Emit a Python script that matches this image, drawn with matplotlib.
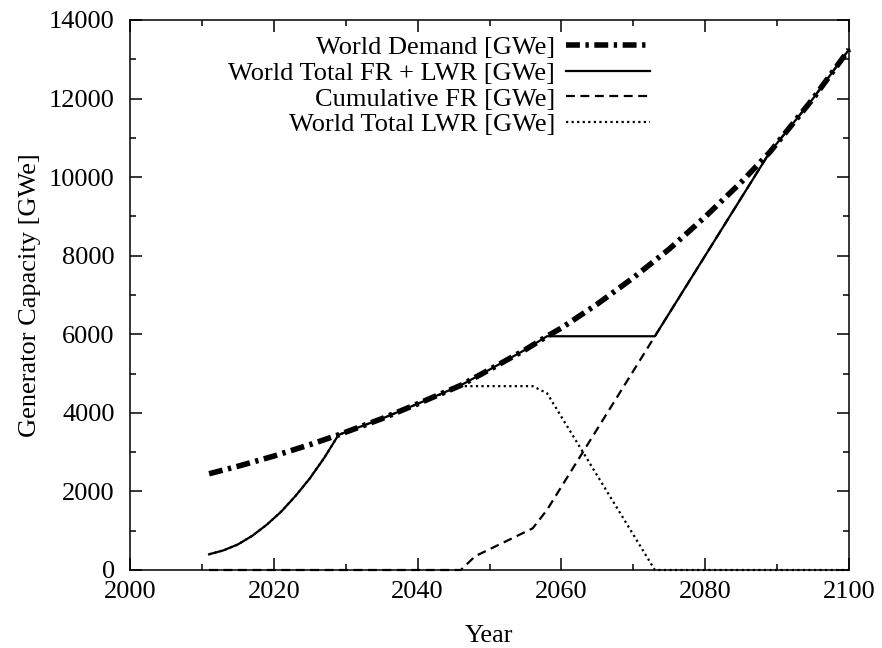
import matplotlib
matplotlib.use("Agg")
import matplotlib.pyplot as plt
from matplotlib.ticker import MultipleLocator

# values
demand_years = [2011, 2015, 2020, 2025, 2029, 2035, 2040, 2046, 2050, 2055, 2058,
                2060, 2065, 2070, 2075, 2080, 2085, 2089, 2095, 2100]
demand_gwe = [2450, 2640, 2900, 3190, 3440, 3850, 4230, 4700, 5100, 5610, 5950,
              6160, 6770, 7440, 8170, 8990, 9870, 10640, 12000, 13250]

total_years = [2011, 2013, 2015, 2017, 2019, 2021, 2023, 2025, 2027, 2029, 2035,
               2040, 2046, 2050, 2055, 2058, 2073, 2089, 2095, 2100]
total_gwe = [400, 500, 650, 870, 1150, 1480, 1880, 2330, 2850, 3440, 3850,
             4230, 4700, 5100, 5610, 5950, 5950, 10640, 12000, 13250]

fr_years = [2011, 2046, 2048, 2056, 2058, 2073, 2089, 2095, 2100]
fr_gwe = [0, 0, 350, 1060, 1530, 5950, 10640, 12000, 13250]

lwr_years = [2011, 2013, 2015, 2017, 2019, 2021, 2023, 2025, 2027, 2029, 2035,
             2040, 2046, 2056, 2058, 2073, 2100]
lwr_gwe = [400, 500, 650, 870, 1150, 1480, 1880, 2330, 2850, 3440, 3850,
           4230, 4680, 4680, 4500, 0, 0]

plt.rcParams['font.family'] = ['Liberation Serif', 'DejaVu Serif']
plt.rcParams['font.size'] = 19

fig = plt.figure(figsize=(8.82, 6.48), dpi=100)
ax = fig.add_axes([130/882, 1-570/648, (849-130)/882, (570-20)/648])

ax.plot(demand_years, demand_gwe, color='black', lw=4.0, dashes=(2.5, 1.0, 0.6, 1.0),
        label='World Demand [GWe]', clip_on=False)
ax.plot(total_years, total_gwe, color='black', lw=1.6,
        label='World Total FR + LWR [GWe]', clip_on=False)
ax.plot(fr_years, fr_gwe, color='black', lw=1.6, dashes=(4, 2.5),
        label='Cumulative FR [GWe]', clip_on=False)
ax.plot(lwr_years, lwr_gwe, color='black', lw=1.6, dashes=(1, 1.5),
        label='World Total LWR [GWe]', clip_on=False)

ax.set_xlim(2000, 2100)
ax.set_ylim(0, 14000)
ax.xaxis.set_major_locator(MultipleLocator(20))
ax.xaxis.set_minor_locator(MultipleLocator(10))
ax.yaxis.set_major_locator(MultipleLocator(2000))
ax.yaxis.set_minor_locator(MultipleLocator(1000))
ax.tick_params(which='both', direction='in', top=True, right=True, width=1.1)
ax.tick_params(which='major', length=8.5)
ax.tick_params(which='minor', length=4.5)
ax.tick_params(axis='y', pad=11)
ax.tick_params(axis='x', pad=8)
for sp in ax.spines.values():
    sp.set_linewidth(1.1)

ax.set_xlabel('Year', labelpad=16)
ax.set_ylabel('Generator Capacity [GWe]', labelpad=6)

ax.legend(loc='upper right', bbox_to_anchor=(650/882, 1-36/648),
          bbox_transform=fig.transFigure, frameon=False, markerfirst=False,
          borderpad=0, borderaxespad=0, labelspacing=0.08,
          handlelength=3.2, handletextpad=0.4)

fig.savefig('out.png', dpi=100)
